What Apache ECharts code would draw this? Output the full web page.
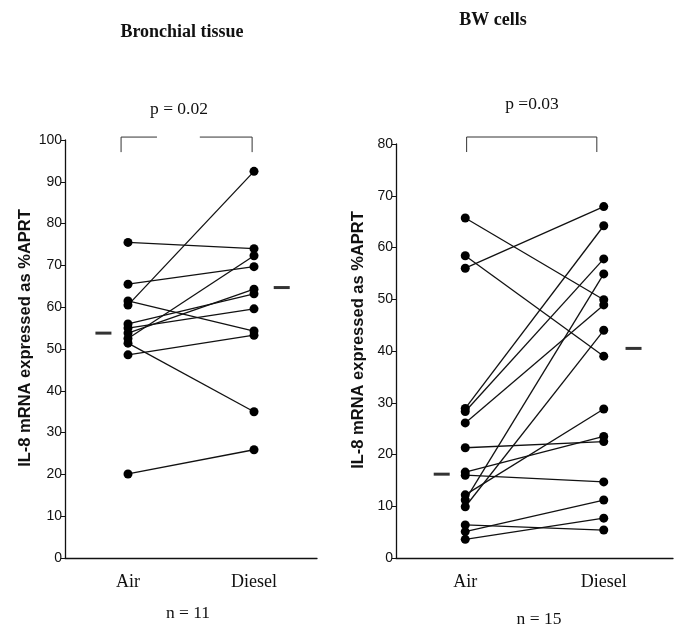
<!DOCTYPE html>
<html>
<head>
<meta charset="utf-8">
<script src="https://cdn.jsdelivr.net/npm/echarts@6/dist/echarts.min.js"></script>
<style>html,body{margin:0;padding:0;background:#fff}#c{width:676px;height:626px}</style>
</head>
<body>
<div id="c"></div>
<script>
// ---- data ----
const categories = ['Air', 'Diesel'];
const categoryPos = [1, 3];

const bronchialAir    = [75.5, 65.5, 61.5, 60.5, 56.0, 55.0, 53.8, 52.5, 51.4, 48.6, 20.1];
const bronchialDiesel = [74.0, 69.7, 54.3, 92.5, 63.2, 59.6, 64.3, 72.3, 35.0, 53.3, 25.9];
const bronchialMedian = [53.8, 64.7];

const bwAir    = [65.7, 58.4, 56.0, 28.9, 28.3, 26.1, 21.3, 16.6, 16.0, 12.2, 11.2, 9.9, 6.4, 5.1, 3.6];
const bwDiesel = [49.9, 39.0, 67.9, 64.2, 57.8, 48.9, 22.5, 23.5, 14.7, 28.8, 54.9, 44.0, 5.4, 11.2, 7.7];
const bwMedian = [16.2, 40.5];

const bronchialTicks = [0, 10, 20, 30, 40, 50, 60, 70, 80, 90, 100];
const bwTicks = [0, 10, 20, 30, 40, 50, 60, 70, 80];

const titles = ['Bronchial tissue', 'BW cells'];
const pTexts = ['p = 0.02', 'p =0.03'];
const nTexts = ['n = 11', 'n = 15'];
const yName = 'IL-8 mRNA expressed as %APRT';

// ---- styling / layout ----
const serif = '"Liberation Serif", "Times New Roman", serif';
const sans = '"Liberation Sans", Arial, sans-serif';
const medianX = [[0.61, 3.44], [0.66, 3.43]];
const bracketY = [[97.1, 100.7], [78.45, 81.35]];
const bracketX = [[[0.89, 1.46], [2.14, 2.97]], [[1.02, 2.9]]];

const chart = echarts.init(document.getElementById('c'), null, {renderer: 'canvas'});

function pairSeries(air, diesel, idx) {
  return air.map((a, i) => ({
    type: 'line', xAxisIndex: idx, yAxisIndex: idx,
    data: [[categoryPos[0], a], [categoryPos[1], diesel[i]]],
    symbol: 'circle', symbolSize: 9, showSymbol: true,
    itemStyle: {color: '#000'},
    lineStyle: {color: '#111', width: 1.3},
    silent: true, z: 3
  }));
}
function medianSeries(med, idx) {
  return {
    type: 'scatter', xAxisIndex: idx, yAxisIndex: idx,
    data: med.map((m, i) => [medianX[idx][i], m]),
    symbol: 'rect', symbolSize: [16, 3],
    itemStyle: {color: '#000'}, silent: true
  };
}
function bracketSeries(idx) {
  const [lo, hi] = bracketY[idx];
  const segs = bracketX[idx];
  const out = [];
  segs.forEach((s, k) => {
    const data = [];
    if (k === 0) data.push([s[0], lo]);
    data.push([s[0], hi], [s[1], hi]);
    if (k === segs.length - 1) data.push([s[1], lo]);
    out.push({
      type: 'line', xAxisIndex: idx, yAxisIndex: idx, data,
      symbol: 'none', clip: false, silent: true,
      lineStyle: {color: '#333', width: 1}
    });
  });
  return out;
}

const grids = [
  {left: 65, top: 140, width: 252, height: 418},
  {left: 396, top: 144, width: 277, height: 414}
];
const yMax = [100, 80];
const yTicks = [bronchialTicks, bwTicks];

const option = {
  animation: false,
  backgroundColor: '#fff',
  grid: grids,
  xAxis: grids.map((g, i) => ({
    type: 'value', gridIndex: i, min: 0, max: 4,
    splitLine: {show: false},
    axisLine: {show: true, onZero: false, lineStyle: {color: '#111', width: 1.3}},
    axisTick: {show: false},
    axisLabel: {
      customValues: categoryPos,
      formatter: v => categories[categoryPos.indexOf(v)] || '',
      fontFamily: serif, fontSize: 18, color: '#111', margin: 15
    }
  })),
  yAxis: grids.map((g, i) => ({
    type: 'value', gridIndex: i, min: 0, max: yMax[i], interval: 10,
    splitLine: {show: false},
    axisLine: {show: true, lineStyle: {color: '#111', width: 1.3}},
    axisTick: {show: true, length: 4, lineStyle: {color: '#111'}},
    axisLabel: {
      fontFamily: sans, fontSize: 14, color: '#111', margin: 3,
      customValues: yTicks[i]
    },
    name: yName, nameLocation: 'middle', nameRotate: 90,
    nameGap: i === 0 ? 31 : 29,
    nameTextStyle: {fontFamily: sans, fontSize: 16.5, fontWeight: 'bold', color: '#111', padding: [0, 0, 0, 22]}
  })),
  series: [
    ...pairSeries(bronchialAir, bronchialDiesel, 0),
    ...pairSeries(bwAir, bwDiesel, 1),
    medianSeries(bronchialMedian, 0),
    medianSeries(bwMedian, 1),
    ...bracketSeries(0),
    ...bracketSeries(1)
  ],
  graphic: [
    {type: 'text', x: 182, y: 32, style: {text: titles[0], font: 'bold 18px ' + serif, fill: '#111', textAlign: 'center', textVerticalAlign: 'middle'}},
    {type: 'text', x: 493, y: 20, style: {text: titles[1], font: 'bold 18px ' + serif, fill: '#111', textAlign: 'center', textVerticalAlign: 'middle'}},
    {type: 'text', x: 179, y: 109, style: {text: pTexts[0], font: '17.5px ' + serif, fill: '#111', textAlign: 'center', textVerticalAlign: 'middle'}},
    {type: 'text', x: 532, y: 104, style: {text: pTexts[1], font: '17.5px ' + serif, fill: '#111', textAlign: 'center', textVerticalAlign: 'middle'}},
    {type: 'text', x: 188, y: 613, style: {text: nTexts[0], font: '17.5px ' + serif, fill: '#111', textAlign: 'center', textVerticalAlign: 'middle'}},
    {type: 'text', x: 539, y: 619, style: {text: nTexts[1], font: '17.5px ' + serif, fill: '#111', textAlign: 'center', textVerticalAlign: 'middle'}}
  ]
};
chart.setOption(option);
</script>
</body>
</html>
